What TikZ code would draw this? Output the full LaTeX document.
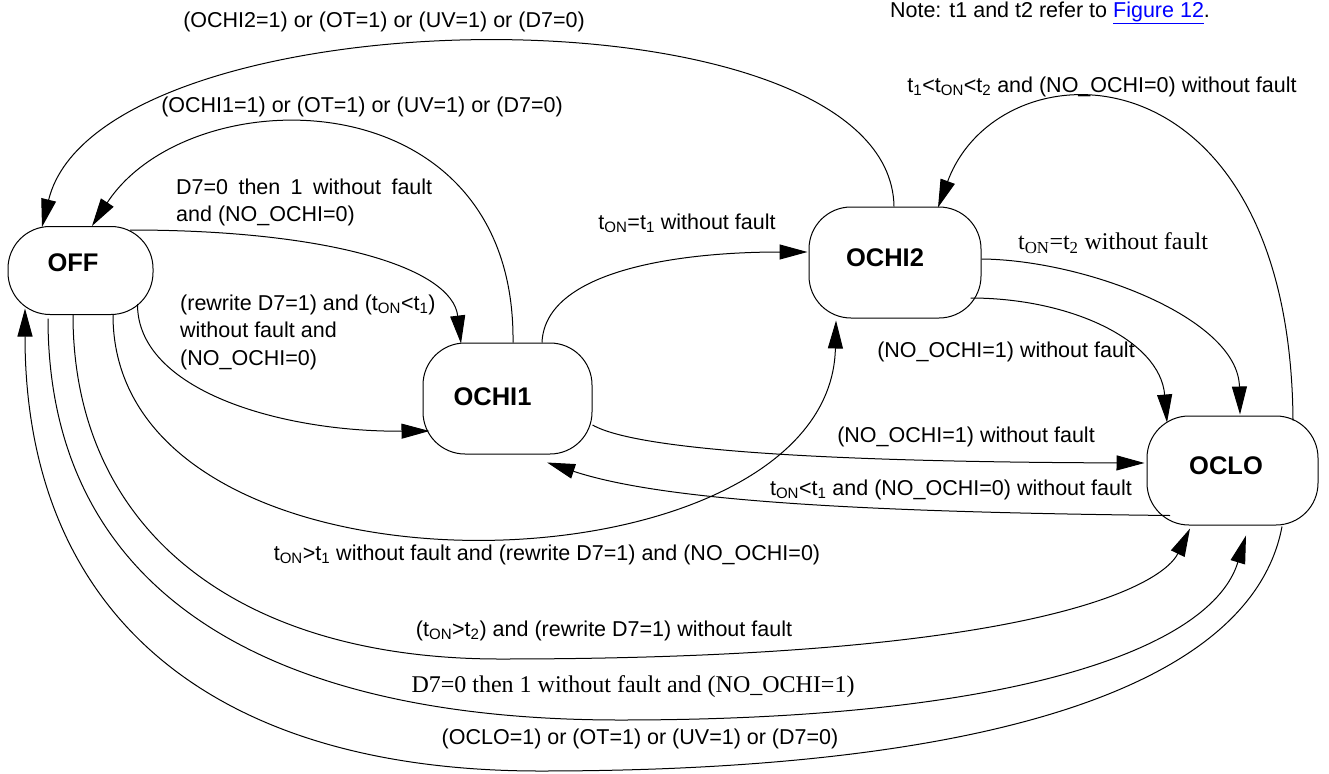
\documentclass[tikz,border=0pt]{standalone}
\usepackage{fontspec}
\setmainfont{Liberation Sans}
\newfontfamily\serifTNR{Liberation Serif}
\usetikzlibrary{arrows.meta,calc}
\newcommand\shiftlab[3]{\raisebox{#2}{#3}\hspace*{#1}}
\begin{document}
\begin{tikzpicture}[x=1pt,y=-1pt,
  state/.style={draw, line width=1pt, rounded corners=42pt, inner sep=0pt, font=\bfseries\fontsize{25.5}{30}\selectfont},
  lbl/.style={inner sep=0pt, font=\fontsize{21.5}{27.5}\selectfont},
  tlbl/.style={inner sep=0pt, font=\serifTNR\fontsize{24}{28}\selectfont},
  tr/.style={line width=1pt, -{Triangle[length=28pt,width=15pt]}}]
\useasboundingbox (0,0) rectangle (1329,773);

% states
\node[state, minimum width=145pt, minimum height=88pt] (OFF) at (80.5,270.5) {\shiftlab{15pt}{15pt}{OFF}};
\node[state, minimum width=169pt, minimum height=111pt] (OCHI1) at (507.5,398.5) {\shiftlab{30pt}{3pt}{OCHI1}};
\node[state, minimum width=172pt, minimum height=111pt] (OCHI2) at (895,262.5) {\shiftlab{20pt}{9pt}{OCHI2}};
\node[state, minimum width=171pt, minimum height=109pt] (OCLO) at (1232.5,470.5) {\shiftlab{13pt}{9pt}{OCLO}};

% labels
\node[lbl] (l1) at (384,22) {(OCHI2=1) or (OT=1) or (UV=1) or (D7=0)};
\node[lbl] (l2) at (362,107) {(OCHI1=1) or (OT=1) or (UV=1) or (D7=0)};
\node[lbl, align=left, anchor=west] (l3) at (176,202.5) {\makebox[256pt][s]{D7=0 then 1 without fault}\\and (NO\_OCHI=0)};
\node[lbl, align=left, anchor=west] (l4) at (180,332) {(rewrite D7=1) and (t\textsubscript{ON}<t\textsubscript{1})\\without fault and\\(NO\_OCHI=0)};
\node[lbl] (l5) at (687,223) {t\textsubscript{ON}=t\textsubscript{1} without fault};
\node[tlbl] (l6) at (1113,243) {t\textsubscript{ON}=t\textsubscript{2} without fault};
\node[lbl] (l7) at (1006,352) {(NO\_OCHI=1) without fault};
\node[lbl] (l8) at (1102,87) {t\textsubscript{1}<t\textsubscript{ON}<t\textsubscript{2} and (NO\_OCHI=0) without fault};
\node[lbl] (l9) at (966,437) {(NO\_OCHI=1) without fault};
\node[lbl, anchor=east] (l10) at (1132,490) {t\textsubscript{ON}<t\textsubscript{1} and (NO\_OCHI=0) without fault};
\node[lbl] (l11) at (547,555) {t\textsubscript{ON}>t\textsubscript{1} without fault and (rewrite D7=1) and (NO\_OCHI=0)};
\node[lbl] (l12) at (604,631) {(t\textsubscript{ON}>t\textsubscript{2}) and (rewrite D7=1) without fault};
\node[tlbl] (l13) at (633,687) {D7=0 then 1 without fault and (NO\_OCHI=1)};
\node[lbl] (l14) at (640,739) {(OCLO=1) or (OT=1) or (UV=1) or (D7=0)};
\node[lbl] (note) at (1050,13) {Note: t1 and t2 refer to \textcolor{blue}{\underline{Figure 12}}.};

% transitions
\draw[tr] ($(OCHI2.north)+(-1,0)$) .. controls (890,-20) and (100,-10) .. ($(OFF.north)+(-38.5,1)$);
\draw[tr] ($(OCHI1.north)+(5.5,0)$) .. controls (516,75) and (190,76) .. ($(OFF.north)+(11.5,0)$);
\draw[tr] ($(OFF.north)+(49.5,4)$) .. controls (330,230) and (452,268) .. ($(OCHI1.north)+(-46.5,1)$);
\draw[tr] ($(OFF.east)+(-16,33.5)$) .. controls (137,390) and (280,432) .. ($(OCHI1.west)+(7,32.5)$);
\draw[tr] ($(OCHI1.north)+(34.5,0)$) .. controls (545,270) and (680,252) .. ($(OCHI2.west)+(-1,-10.5)$);
\draw[tr] ($(OCHI2.east)+(0,-3.5)$) .. controls (1085,260) and (1238,318) .. ($(OCLO.north)+(7.5,-1)$);
\draw[tr] ($(OCHI2.east)+(-11,35.5)$) .. controls (1070,298) and (1160,340) .. ($(OCLO.north)+(-65.5,7)$);
\draw[tr] ($(OCLO.north)+(60.5,5)$) .. controls (1290,40) and (1000,40) .. ($(OCHI2.north)+(43,1)$);
\draw[tr] ($(OCHI1.east)+(0,26.5)$) .. controls (640,452) and (850,462) .. ($(OCLO.west)+(-2,-7.5)$);
\draw[tr] ($(OCLO.south)+(-62.5,-10)$) .. controls (850,512) and (660,500) .. ($(OCHI1.south)+(39.5,8)$);
\draw[tr] ($(OFF.south)+(32.5,0)$) .. controls (113,620) and (830,600) .. ($(OCHI2.south)+(-59,2)$);
\draw[tr] ($(OFF.south)+(-7.5,0)$) .. controls (73,528) and (235,659) .. (500,659)
          .. controls (1050,659) and (1164,582) .. ($(OCLO.south)+(-42.5,3)$);
\draw[tr] ($(OFF.south)+(-32.5,3.5)$) .. controls (48,579) and (248,720) .. (620,720)
          .. controls (1020,720) and (1212,647) .. ($(OCLO.south)+(13.5,10)$);
\draw[tr] ($(OCLO.south)+(49.5,1)$) .. controls (1252,686) and (990,771) .. (540,771)
          .. controls (205,771) and (25,609) .. ($(OFF.south)+(-55.5,-6.5)$);
\end{tikzpicture}
\end{document}
